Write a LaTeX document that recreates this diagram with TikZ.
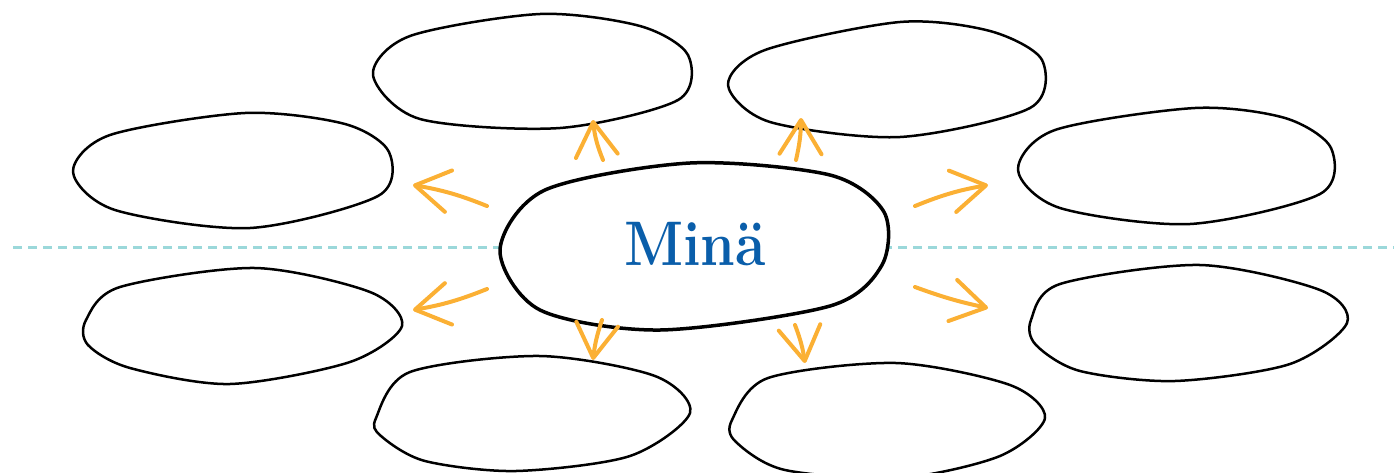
\documentclass[tikz,border=0pt]{standalone}
\usepackage{graphicx}
\usetikzlibrary{arrows.meta}
\definecolor{pilvari}{RGB}{251,176,52}
\definecolor{viiva}{RGB}{155,216,218}
\definecolor{minasin}{RGB}{10,94,170}

\begin{document}
\begin{tikzpicture}[x=0.5pt,y=-0.5pt,
  kupla/.style={draw=black,line width=1.25pt,fill=white,line join=round},
  pilvi/.style={pilvari,line width=2pt,line cap=round,-{Straight Barb[length=17pt,width=21pt,round]}},
  viivat/.style={viiva,line width=1.5pt,dash pattern=on 4.5pt off 3pt}]
\clip (0,0) rectangle (1394,472);

% keskiviiva
\coordinate (vasen) at (13,247);
\coordinate (oikea) at (1394,247);
\draw[viivat] (vasen) -- (oikea);

% kuplat
\draw[kupla] plot[smooth cycle] coordinates {(373,75) (410,36) (540,14) (640,26) (688,55) (678,100) (560,128) (420,119)};
\draw[kupla] plot[smooth cycle] coordinates {(728,85) (765,50) (900,22) (990,31) (1042,60) (1030,108) (900,137) (770,122)};
\draw[kupla] plot[smooth cycle] coordinates {(73,172) (110,135) (245,113) (345,124) (389,152) (378,196) (250,228) (115,210)};
\draw[kupla] plot[smooth cycle] coordinates {(86,320) (120,287) (255,268) (370,292) (402,326) (350,362) (230,384) (130,368) (88,345)};
\draw[kupla] plot[smooth cycle] coordinates {(1018,170) (1055,130) (1195,108) (1285,118) (1331,148) (1320,194) (1190,224) (1060,208)};
\draw[kupla] plot[smooth cycle] coordinates {(1031,320) (1060,284) (1200,265) (1320,290) (1347,323) (1290,364) (1175,381) (1080,371) (1036,345)};
\draw[kupla] plot[smooth cycle] coordinates {(376,418) (410,372) (540,356) (655,376) (690,413) (630,456) (516,471) (425,461) (381,436)};
\draw[kupla] plot[smooth cycle] coordinates {(732,420) (768,378) (896,363) (1010,385) (1045,418) (1000,456) (900,478) (785,470) (736,442)};

% keskikupla
\draw[kupla,line width=1.75pt] plot[smooth cycle] coordinates {(500,250) (545,190) (690,163) (830,175) (884,212) (882,265) (830,306) (660,330) (540,310)};
\node[anchor=base,text=minasin,font=\fontsize{31.5}{36}\selectfont\bfseries] (mina) at (695,265) {\scalebox{0.88}[1]{Minä}};

% nuolet
\foreach \n/\ax/\ay/\bx/\by/\taivutus in {%
  1/603/160/593/120/8, 2/487/206/413/185/-6, 3/915/206/988/185/6, 4/915/287/988/308/-4,
  5/796/160/801/118/-6, 6/602/320/593/360/-6, 7/795/325/805/363/6, 8/487/289/413/310/6} {
  \coordinate (a\n) at (\ax,\ay);
  \coordinate (b\n) at (\bx,\by);
  \draw[pilvi] (a\n) to[bend left=\taivutus] (b\n);
}
\end{tikzpicture}
\end{document}
